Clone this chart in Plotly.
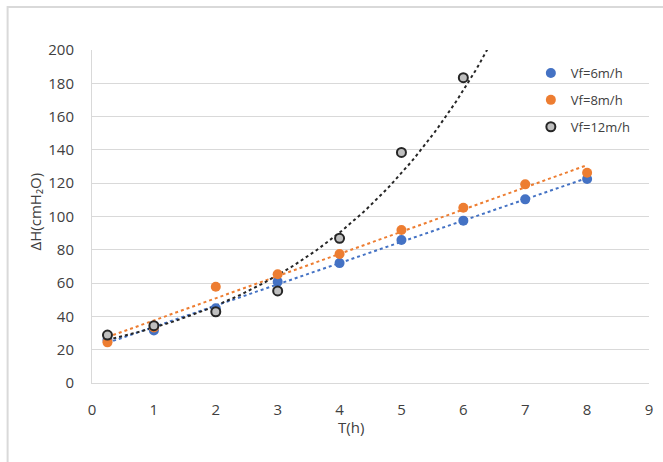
import numpy as np
import plotly.graph_objects as go

t_vals = [0.25, 1, 2, 3, 4, 5, 6, 7, 8]
t_12 = [0.25, 1, 2, 3, 4, 5, 6]
dh_6 = [25.8, 31.6, 44.9, 60.8, 72.0, 85.9, 97.5, 110.3, 122.5]
dh_8 = [24.4, 33.4, 57.8, 65.3, 77.5, 91.9, 105.3, 119.3, 126.3]
dh_12 = [28.8, 34.4, 42.8, 55.3, 86.9, 138.5, 183.4]
x_ticks = [0, 1, 2, 3, 4, 5, 6, 7, 8, 9]
y_ticks = [0, 20, 40, 60, 80, 100, 120, 140, 160, 180, 200]

BLUE = "#4472C4"
ORANGE = "#ED7D31"
DARK = "#262626"
FONT = "Open Sans, Liberation Sans, Arial, sans-serif"

fig = go.Figure()

# trend lines (least-squares fits of the data)
tx = np.linspace(min(t_vals), max(t_vals), 50)
p6 = np.polyfit(t_vals, dh_6, 1)
p8 = np.polyfit(t_vals, dh_8, 1)
pe = np.polyfit(t_12, np.log(dh_12), 1)
te = np.linspace(min(t_12), 6.8, 120)
fig.add_trace(go.Scatter(x=tx, y=np.polyval(p8, tx), mode="lines", showlegend=False,
                         line=dict(color=ORANGE, width=2, dash="dot"), hoverinfo="skip"))
fig.add_trace(go.Scatter(x=tx, y=np.polyval(p6, tx), mode="lines", showlegend=False,
                         line=dict(color=BLUE, width=2, dash="dot"), hoverinfo="skip"))
fig.add_trace(go.Scatter(x=te, y=np.exp(np.polyval(pe, te)), mode="lines", showlegend=False,
                         line=dict(color=DARK, width=2, dash="dot"), hoverinfo="skip"))

fig.add_trace(go.Scatter(x=t_vals, y=dh_6, mode="markers", name="Vf=6m/h", legendgroup="a",
                         marker=dict(color=BLUE, size=10)))
fig.add_trace(go.Scatter(x=t_vals, y=dh_8, mode="markers", name="Vf=8m/h", legendgroup="b",
                         marker=dict(color=ORANGE, size=10)))
fig.add_trace(go.Scatter(x=t_12, y=dh_12, mode="markers", name="Vf=12m/h", legendgroup="c",
                         marker=dict(color="#BFBFBF", size=9, line=dict(color=DARK, width=2))))

L, R, T, B = 92, 10, 50, 79
W, H = 663, 462
pw, ph = W - L - R, H - T - B

def px_x(p):
    return (p - L) / pw

def px_y(p):
    return (H - B - p) / ph

fig.update_layout(
    width=W, height=H,
    margin=dict(l=L, r=R, t=T, b=B),
    paper_bgcolor="white", plot_bgcolor="white",
    font=dict(family=FONT, color="#595959", size=12),
    legend=dict(x=px_x(534), y=px_y(58), xanchor="left", yanchor="top",
                font=dict(size=13, color="#404040"), tracegroupgap=7,
                traceorder="grouped", bgcolor="rgba(0,0,0,0)", itemwidth=30),
    xaxis=dict(range=[0, 9], tickvals=x_ticks, showgrid=False, zeroline=False,
               showline=True, linecolor="#D9D9D9", linewidth=1,
               ticks="", ticklabelstandoff=13, tickfont=dict(size=15, color="#404040")),
    yaxis=dict(range=[0, 200], tickvals=y_ticks, showgrid=True, gridcolor="#D9D9D9",
               gridwidth=1, zeroline=False, showline=True, linecolor="#D9D9D9",
               linewidth=1, ticks="", ticklabelstandoff=14,
               tickfont=dict(size=15, color="#404040")),
    shapes=[dict(type="rect", xref="paper", yref="paper",
                 x0=px_x(7), x1=px_x(700), y0=px_y(500), y1=px_y(7),
                 line=dict(color="#D9D9D9", width=2), layer="below")],
    annotations=[
        dict(text="T(h)", xref="paper", yref="paper", x=px_x(353), y=px_y(427),
             xanchor="center", yanchor="middle",
             showarrow=False, font=dict(size=15, color="#404040")),
        dict(text="ΔH(cmH₂O)", xref="paper", yref="paper", x=px_x(35), y=px_y(211),
             xanchor="center", yanchor="middle",
             showarrow=False, textangle=-90, font=dict(size=15, color="#404040")),
    ],
)

fig.write_html("out.html", post_script="document.body.style.margin='0';",
               config={"displayModeBar": False})
